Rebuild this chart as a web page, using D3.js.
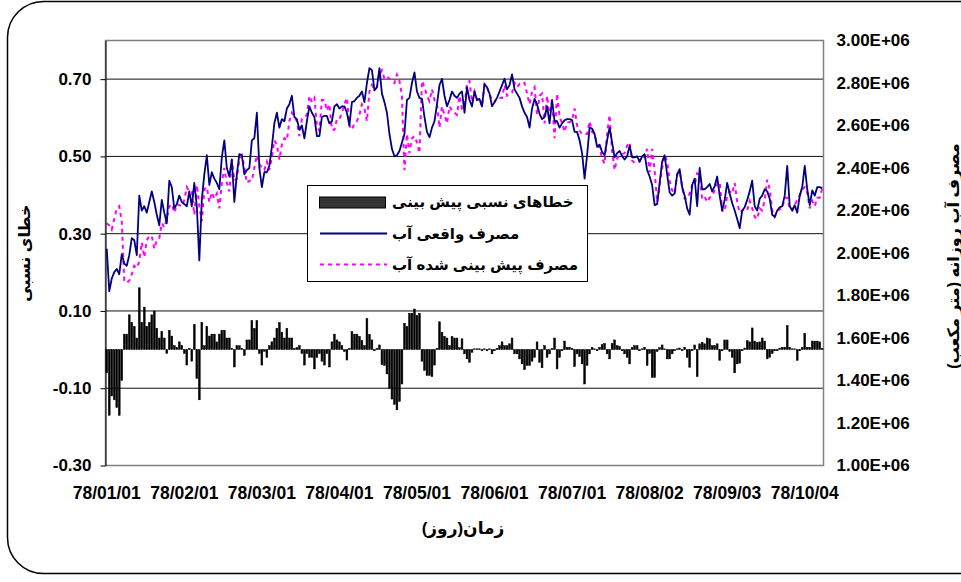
<!DOCTYPE html>
<html>
<head>
<meta charset="utf-8">
<script src="https://cdnjs.cloudflare.com/ajax/libs/d3/7.8.5/d3.min.js"></script>
<style>
body{margin:0;background:#fff}
svg text{font-family:"Liberation Sans",Arial,"DejaVu Sans",sans-serif;font-weight:bold;fill:#000}
</style>
</head>
<body>
<script>
// daily series, 78/01/01 .. 78/10/10 (one value per day)
// actual and forecast water use, in millions of m3
var actual = [
  2.02,1.82,1.88,1.91,1.925,1.90,1.995,1.95,1.94,1.99,
  2.07,2.06,1.99,2.27,2.20,2.22,2.19,2.24,2.29,2.24,
  2.18,2.13,2.25,2.19,2.14,2.34,2.31,2.21,2.23,2.27,
  2.24,2.23,2.22,2.29,2.22,2.33,2.22,1.965,2.25,2.37,
  2.46,2.32,2.38,2.35,2.33,2.30,2.45,2.53,2.40,2.36,
  2.44,2.24,2.37,2.465,2.46,2.37,2.39,2.40,2.53,2.54,
  2.66,2.40,2.31,2.38,2.38,2.41,2.50,2.61,2.66,2.59,
  2.63,2.62,2.68,2.70,2.74,2.64,2.63,2.58,2.60,2.54,
  2.62,2.69,2.66,2.64,2.55,2.55,2.64,2.645,2.645,2.61,
  2.62,2.69,2.70,2.68,2.69,2.69,2.66,2.60,2.71,2.715,
  2.73,2.74,2.76,2.71,2.80,2.87,2.86,2.765,2.78,2.87,
  2.75,2.71,2.66,2.56,2.49,2.455,2.46,2.48,2.52,2.56,
  2.72,2.73,2.80,2.85,2.76,2.73,2.725,2.64,2.57,2.545,
  2.59,2.62,2.70,2.79,2.82,2.74,2.69,2.72,2.76,2.74,
  2.73,2.75,2.76,2.66,2.78,2.72,2.69,2.76,2.72,2.725,
  2.69,2.795,2.78,2.75,2.69,2.71,2.73,2.76,2.79,2.82,
  2.77,2.79,2.84,2.77,2.75,2.73,2.69,2.66,2.64,2.59,
  2.68,2.725,2.70,2.655,2.63,2.64,2.69,2.61,2.72,2.62,
  2.62,2.59,2.61,2.625,2.63,2.63,2.625,2.57,2.57,2.53,
  2.47,2.35,2.46,2.59,2.585,2.56,2.50,2.51,2.475,2.46,
  2.53,2.59,2.52,2.45,2.47,2.48,2.455,2.44,2.455,2.505,
  2.45,2.45,2.455,2.43,2.455,2.465,2.39,2.36,2.32,2.225,
  2.23,2.33,2.43,2.46,2.37,2.285,2.27,2.28,2.37,2.395,
  2.31,2.27,2.21,2.18,2.32,2.35,2.22,2.40,2.30,2.30,
  2.31,2.325,2.29,2.315,2.36,2.27,2.20,2.25,2.33,2.28,
  2.235,2.20,2.16,2.117,2.20,2.215,2.25,2.29,2.34,2.22,
  2.20,2.255,2.27,2.30,2.29,2.255,2.18,2.17,2.20,2.215,
  2.22,2.27,2.41,2.22,2.20,2.225,2.19,2.27,2.31,2.41,
  2.30,2.225,2.295,2.27,2.31,2.31,2.305
]
var predicted = [
  2.14,2.13,2.11,2.16,2.21,2.22,2.15,1.87,1.86,1.87,
  1.90,1.94,1.93,1.96,2.05,1.98,2.06,2.08,2.08,2.02,
  2.06,2.07,2.14,2.12,2.16,2.22,2.23,2.19,2.23,2.225,
  2.22,2.25,2.31,2.29,2.29,2.18,2.32,2.22,2.15,2.30,
  2.31,2.24,2.285,2.256,2.28,2.21,2.33,2.40,2.33,2.29,
  2.44,2.34,2.35,2.44,2.46,2.405,2.33,2.34,2.34,2.40,
  2.46,2.42,2.40,2.39,2.43,2.39,2.45,2.53,2.51,2.44,
  2.51,2.54,2.53,2.62,2.66,2.64,2.62,2.55,2.63,2.64,
  2.65,2.74,2.71,2.73,2.60,2.575,2.72,2.72,2.67,2.70,
  2.58,2.58,2.63,2.63,2.66,2.70,2.73,2.60,2.58,2.61,
  2.62,2.65,2.70,2.68,2.62,2.76,2.79,2.77,2.78,2.84,
  2.86,2.82,2.83,2.82,2.81,2.80,2.84,2.81,2.74,2.39,
  2.56,2.47,2.54,2.55,2.52,2.47,2.81,2.78,2.74,2.715,
  2.77,2.72,2.70,2.59,2.69,2.65,2.61,2.69,2.67,2.66,
  2.65,2.74,2.68,2.69,2.80,2.81,2.71,2.76,2.72,2.725,
  2.69,2.795,2.78,2.75,2.72,2.71,2.73,2.73,2.73,2.79,
  2.74,2.75,2.755,2.80,2.78,2.795,2.79,2.80,2.75,2.70,
  2.76,2.78,2.65,2.74,2.75,2.61,2.74,2.64,2.72,2.54,
  2.75,2.64,2.61,2.57,2.615,2.615,2.625,2.68,2.60,2.575,
  2.56,2.56,2.56,2.62,2.57,2.56,2.51,2.495,2.445,2.42,
  2.56,2.65,2.48,2.39,2.445,2.46,2.465,2.47,2.505,2.52,
  2.435,2.425,2.43,2.43,2.455,2.45,2.49,2.38,2.49,2.385,
  2.24,2.32,2.40,2.46,2.43,2.34,2.295,2.28,2.37,2.385,
  2.31,2.255,2.255,2.28,2.32,2.32,2.375,2.365,2.255,2.265,
  2.24,2.26,2.27,2.295,2.325,2.335,2.20,2.195,2.27,2.29,
  2.28,2.33,2.24,2.19,2.20,2.205,2.20,2.245,2.21,2.17,
  2.16,2.21,2.20,2.25,2.345,2.30,2.20,2.17,2.20,2.205,
  2.21,2.26,2.26,2.21,2.20,2.225,2.25,2.27,2.30,2.31,
  2.285,2.21,2.245,2.22,2.26,2.26,2.305
]
// relative forecast error
var relError = [
  -0.06,-0.17,-0.12,-0.13,-0.15,-0.17,-0.08,0.04,0.04,0.09,
  0.07,0.06,0.03,0.16,0.07,0.11,0.06,0.07,0.09,0.10,
  0.055,0.03,0.047,0.03,-0.01,0.05,0.035,0.01,0.005,0.02,
  0.01,-0.01,-0.04,0.003,-0.03,0.065,-0.075,-0.13,0.07,0.01,
  0.06,0.035,0.04,0.04,0.02,0.04,0.05,0.05,0.03,0.03,
  0.003,-0.045,0.01,0.01,0.003,-0.015,0.025,0.025,0.075,0.055,
  0.075,-0.01,-0.04,-0.005,-0.02,0.01,0.02,0.03,0.055,0.07,
  0.045,0.03,0.055,0.03,0.03,0.003,0.005,0.01,-0.01,-0.04,
  -0.01,-0.02,-0.02,-0.05,-0.02,-0.01,-0.03,-0.04,-0.01,-0.045,
  0.02,0.04,0.025,0.02,0.01,-0.005,-0.027,0.003,0.047,0.04,
  0.04,0.034,0.023,0.01,0.08,0.039,0.025,-0.003,0.003,0.012,
  -0.039,-0.041,-0.063,-0.10,-0.128,-0.142,-0.156,-0.134,-0.089,0.068,
  0.06,0.094,0.094,0.105,0.088,0.094,-0.03,-0.054,-0.067,-0.067,
  -0.07,-0.04,0.003,0.072,0.045,0.034,0.03,0.01,0.034,0.03,
  0.03,0.005,0.028,-0.011,-0.024,-0.033,-0.007,0.002,0.002,0.002,
  -0.003,0.002,-0.003,0.002,-0.011,-0.003,0.003,0.01,0.02,0.01,
  0.01,0.015,0.03,-0.011,-0.011,-0.024,-0.037,-0.052,-0.041,-0.041,
  -0.03,-0.02,0.02,-0.033,-0.047,0.01,-0.02,-0.011,0.003,0.03,
  -0.05,-0.02,-0.003,0.022,0.006,0.006,0.003,-0.044,-0.011,-0.018,
  -0.037,-0.089,-0.041,-0.011,0.006,0.002,-0.003,0.006,0.013,0.016,
  -0.011,-0.024,0.016,0.025,0.01,0.008,-0.003,-0.011,-0.02,-0.037,
  0.006,0.01,0.01,-0.003,0.002,0.006,-0.041,-0.01,-0.072,-0.072,
  -0.005,0.005,0.012,0.002,-0.024,-0.024,-0.011,-0.003,0.002,0.004,
  -0.003,0.006,-0.02,-0.046,-0.003,0.012,-0.07,0.015,0.019,0.015,
  0.03,0.028,0.01,0.01,0.015,-0.028,-0.003,0.025,0.025,-0.005,
  -0.02,-0.06,-0.037,-0.035,-0.003,0.004,0.023,0.02,0.056,0.022,
  0.018,0.02,0.03,0.022,-0.024,-0.02,-0.01,-0.003,-0.003,0.004,
  0.006,0.006,0.062,0.006,0.002,0.002,-0.028,-0.003,0.006,0.042,
  0.006,0.006,0.022,0.022,0.022,0.02,0.003
]

var tickDays = [0, 31, 62, 93, 124, 155, 186, 217, 248, 279]
var tickLabels = ['78/01/01','78/02/01','78/03/01','78/04/01','78/05/01',
                  '78/06/01','78/07/01','78/08/02','78/09/03','78/10/04']
var errTicks = [-0.3, -0.1, 0.1, 0.3, 0.5, 0.7]
var flowTicks = [1.0, 1.2, 1.4, 1.6, 1.8, 2.0, 2.2, 2.4, 2.6, 2.8, 3.0]

var legendNames = ['خطاهای نسبی پیش بینی', 'مصرف واقعی آب', 'مصرف پیش بینی شده آب']

var W = 961, H = 582
var L = 105.5, R = 823.5, T = 40.5, B = 465.5

var svg = d3.select('body').append('svg').attr('width', W).attr('height', H)

// outer chart frame
svg.append('rect')
  .attr('x', 7.5).attr('y', 1.5).attr('width', 990).attr('height', 572)
  .attr('rx', 36)
  .attr('fill', 'none').attr('stroke', '#000').attr('stroke-width', 1.5)

var x = d3.scaleBand().domain(d3.range(actual.length)).range([L, R])
var bw = x.bandwidth()
var yErr = d3.scaleLinear().domain([-0.3, 0.8]).range([B, T])
var yFlow = d3.scaleLinear().domain([1, 3]).range([B, T])

// gridlines
svg.append('g').selectAll('line')
  .data(errTicks.slice(1))
  .join('line')
  .attr('x1', L).attr('x2', R)
  .attr('y1', d => yErr(d)).attr('y2', d => yErr(d))
  .attr('stroke', '#111').attr('stroke-width', 1)

// plot frame
svg.append('rect')
  .attr('x', L).attr('y', T).attr('width', R - L).attr('height', B - T)
  .attr('fill', 'none').attr('stroke', '#808080').attr('stroke-width', 1.5)

// error bars
svg.append('g').selectAll('rect')
  .data(relError)
  .join('rect')
  .attr('x', (d, i) => x(i) + 0.35)
  .attr('width', bw - 0.7)
  .attr('y', d => yErr(Math.max(0, d)))
  .attr('height', d => Math.abs(yErr(d) - yErr(0)))
  .attr('fill', '#000').attr('stroke', '#000').attr('stroke-width', 0.5)

var line = d3.line().x((d, i) => x(i) + bw / 2).y(d => yFlow(d))

svg.append('path')
  .attr('d', line(predicted))
  .attr('fill', 'none').attr('stroke', '#ff00ff').attr('stroke-width', 2)
  .attr('stroke-dasharray', '4,4')

svg.append('path')
  .attr('d', line(actual))
  .attr('fill', 'none').attr('stroke', '#000080').attr('stroke-width', 1.8)
  .attr('stroke-linejoin', 'round')

// axes
var leftAxis = svg.append('g')
  .attr('transform', 'translate(' + L + ',0)')
  .call(d3.axisLeft(yErr).tickValues(errTicks).tickFormat(d => d.toFixed(2))
    .tickSize(5).tickSizeOuter(0).tickPadding(9))
leftAxis.select('.domain').attr('stroke', '#000')
leftAxis.selectAll('.tick line').attr('stroke', '#000')

var rightAxis = svg.append('g')
  .attr('transform', 'translate(' + R + ',0)')
  .call(d3.axisRight(yFlow).tickValues(flowTicks).tickFormat(d => d.toFixed(2) + 'E+06')
    .tickSize(0).tickPadding(13))
rightAxis.select('.domain').remove()

var bottomAxis = svg.append('g')
  .attr('transform', 'translate(0,' + B + ')')
  .call(d3.axisBottom(x).tickValues(tickDays).tickFormat((d, i) => tickLabels[i])
    .tickSize(0).tickPadding(21))
bottomAxis.select('.domain').remove()

svg.selectAll('.tick text').style('font-size', '17px').style('font-weight', 'bold')
  .attr('fill', '#000')
bottomAxis.selectAll('.tick text').style('font-size', '17.5px')

// axis titles
svg.append('text')
  .attr('x', 463).attr('y', 534)
  .attr('text-anchor', 'middle').attr('direction', 'rtl')
  .style('font-size', '17px')
  .text('زمان(روز)')

svg.append('text')
  .attr('transform', 'translate(30,253) rotate(-90)')
  .attr('text-anchor', 'middle').attr('direction', 'rtl')
  .style('font-size', '16px')
  .text('خطای نسبی')

svg.append('text')
  .attr('transform', 'translate(959,256) rotate(-90)')
  .attr('text-anchor', 'middle').attr('direction', 'rtl')
  .style('font-size', '16px')
  .text('مصرف آب روزانه (متر مکعب)')

// legend
var lg = svg.append('g')
lg.append('rect')
  .attr('x', 307.5).attr('y', 185.5).attr('width', 280).attr('height', 96)
  .attr('fill', '#fff').attr('stroke', '#000').attr('stroke-width', 1)

var rowY = [202, 233.5, 264.5]
lg.append('rect')
  .attr('x', 319.5).attr('y', rowY[0] - 5).attr('width', 66).attr('height', 11)
  .attr('fill', '#333').attr('stroke', '#000')
lg.append('line')
  .attr('x1', 320).attr('x2', 387).attr('y1', rowY[1]).attr('y2', rowY[1])
  .attr('stroke', '#000080').attr('stroke-width', 2)
lg.append('line')
  .attr('x1', 320).attr('x2', 387).attr('y1', rowY[2]).attr('y2', rowY[2])
  .attr('stroke', '#ff00ff').attr('stroke-width', 2).attr('stroke-dasharray', '4,4')

lg.selectAll('text.lab')
  .data(legendNames)
  .join('text')
  .attr('class', 'lab')
  .attr('x', 392).attr('y', (d, i) => rowY[i] + 5)
  .style('font-size', '15px')
  .text(d => d)
</script>
</body>
</html>
